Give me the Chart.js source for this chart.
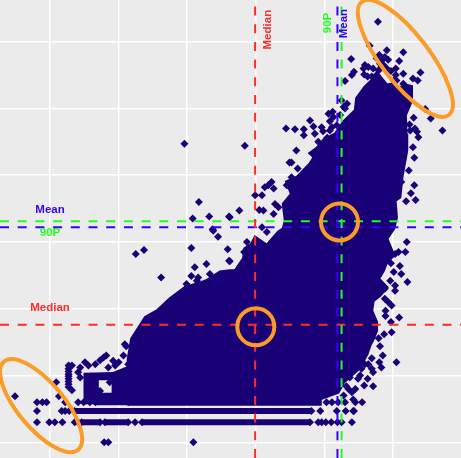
<!DOCTYPE html>
<html>
<head>
<meta charset="utf-8">
<style>html,body{margin:0;padding:0;background:#ebebeb}#w{width:461px;height:458px;position:relative}</style>
<script src="https://cdn.jsdelivr.net/npm/chart.js@4"></script>
</head>
<body>
<div id="w"><canvas id="c"></canvas></div>
<script>
// Values, in grid units (the reference has no axis labels).
const denseCloud = [[1.14,.57],[1.14,1.25],[1.19,1.55],[1.39,1.87],[1.56,1.97],[1.75,2.15],[1.97,2.32],[2.14,2.37],[2.28,2.42],[2.48,2.55],[2.62,2.57],[2.70,2.57],[2.82,2.75],[2.84,2.90],[2.94,2.97],[2.99,3.07],[3.16,2.95],[3.33,3.15],[3.40,3.20],[3.43,3.32],[3.40,3.57],[3.52,3.72],[3.45,3.90],[3.60,3.97],[3.79,4.17],[3.85,4.27],[3.79,4.33],[3.91,4.42],[4.03,4.55],[4.16,4.62],[4.28,4.80],[4.45,4.97],[4.47,5.15],[4.59,5.32],[4.69,5.42],[4.79,5.50],[4.91,5.35],[5.01,5.37],[5.10,5.31],[5.18,5.35],[5.27,5.33],[5.27,5.12],[5.18,4.90],[5.19,4.62],[5.20,4.37],[5.13,3.97],[5.10,3.67],[5.03,3.62],[5.05,3.37],[5.01,3.20],[4.91,3.05],[5.01,2.80],[4.91,2.70],[4.86,2.57],[4.79,2.45],[4.91,2.32],[4.81,2.20],[4.71,2.12],[4.69,1.97],[4.76,1.80],[4.76,1.67],[4.70,1.52],[4.67,1.47],[4.62,1.32],[4.50,1.10],[4.28,.90],[4.20,.75],[3.94,.65],[3.94,.57],[1.14,.57]];
const lowerBlockA = [[.51,.57],[.51,1.02],[.92,1.03],[.92,.95],[.69,.95],[.69,.72],[.95,.72],[.95,.57]];
const lowerBlockB = [[.92,.57],[.92,1.03],[1.14,1.12],[1.14,.57]];
const bandUpper = [[.36,.47],[3.81,.47]];
const bandLower1 = [[.46,.30],[.73,.30]];
const bandLower2 = [[.80,.30],[1.14,.30]];
const bandLower3 = [[1.34,.30],[3.79,.30]];
const bandTop = [[.66,.60],[1.14,.60]];
const topOutliers = [[4.78,6.30],[4.66,5.94],[4.91,5.87],[5.15,5.84],[4.39,5.74],[4.80,5.80],[4.76,5.75],[4.88,5.77],[4.84,5.72],[4.93,5.73],[5.09,5.71],[4.59,5.65],[4.64,5.62],[4.81,5.67],[4.83,5.62],[4.43,5.55],[4.40,5.50],[4.58,5.51],[4.63,5.48],[4.97,5.56],[5.04,5.60],[5.15,5.52],[5.40,5.54],[5.01,5.42],[5.04,5.50],[5.29,5.45],[5.36,5.42],[4.30,5.41],[4.69,5.48],[4.76,5.50],[4.74,5.45],[4.79,5.57],[4.86,5.65],[4.91,5.60],[4.71,5.60],[5.05,5.42],[5.15,5.37],[4.57,5.60]];
const rightOutliers = [[5.47,4.99],[5.55,4.85],[5.72,4.67],[5.30,4.86],[5.24,4.76],[5.32,4.70],[5.25,4.67],[5.35,4.65],[5.37,4.57],[5.29,4.42],[5.31,4.26],[5.23,4.07],[5.12,3.90],[5.31,3.85],[5.26,3.73],[5.19,3.61],[5.33,3.63],[5.20,3.00],[5.18,2.85],[5.08,2.85],[5.03,2.82],[4.97,2.68],[5.10,2.64],[5.01,2.55],[5.12,2.52],[4.96,2.42],[5.21,2.40],[5.03,2.35],[5.03,2.27],[4.88,2.30],[4.88,2.15],[4.93,2.10],[4.98,2.05],[4.89,1.97],[4.89,1.89],[5.09,1.87],[4.97,1.80],[4.98,1.65],[4.87,1.62],[4.79,1.56],[4.81,1.44],[4.85,1.30],[5.05,1.20],[4.80,1.20],[4.83,1.12],[4.69,1.26],[4.71,1.05],[4.63,.95],[4.71,.84],[4.58,.85],[4.49,.95],[4.45,.80],[4.35,.80],[4.42,.64],[4.54,1.10],[4.59,1.17],[4.64,1.17],[4.69,1.10],[4.52,1.00],[4.37,.97],[4.32,.84],[4.40,.75],[4.28,.70]];
const upperLeftOutliers = [[3.44,4.70],[3.57,4.69],[3.70,4.69],[3.79,4.82],[3.84,4.73],[3.70,4.60],[3.86,4.62],[3.96,4.72],[3.98,4.66],[4.06,4.92],[4.12,4.95],[4.13,4.87],[4.08,4.81],[4.11,4.72],[4.08,4.67],[4.25,5.12],[4.33,5.07],[4.30,5.00],[4.04,4.56],[3.91,4.50],[3.93,4.42],[3.59,4.37],[2.84,4.44],[3.52,4.19],[3.49,4.19],[3.61,4.10],[3.23,3.90],[3.18,3.85],[3.13,3.82],[3.26,3.80],[2.99,3.70],[3.09,3.70],[3.28,3.57],[3.33,3.52],[3.26,3.42],[3.05,3.48],[3.11,3.47],[2.76,3.47],[2.62,3.37],[3.09,3.22],[3.45,3.85],[3.47,3.85],[3.52,3.97],[1.96,4.47],[2.17,3.60],[2.08,3.35],[2.32,3.38],[2.61,3.38],[2.37,3.19],[2.38,3.17],[2.45,3.08],[2.59,2.89],[2.06,2.91],[1.37,2.88],[1.25,2.82],[2.11,2.62],[2.28,2.67],[2.61,2.72],[2.06,2.49],[2.33,2.52],[1.62,2.47],[1.99,2.37],[2.16,2.47],[2.14,2.42],[3.16,3.15],[2.87,3.00],[2.83,2.85],[2.62,2.71],[4.18,4.75],[4.23,4.90],[4.28,5.02],[4.01,4.52]];
const lowerLeftOutliers = [[1.09,1.47],[1.11,1.44],[.27,1.15],[.27,1.10],[.27,1.06],[.27,1.02],[.27,.99],[.27,.95],[.27,.91],[.27,.87],[.27,.83],[.32,1.15],[.44,1.12],[.41,1.05],[.44,.97],[.51,1.20],[.56,1.15],[.66,1.17],[.73,1.23],[.78,1.27],[.82,1.30],[.92,1.22],[.85,1.12],[1.00,1.20],[1.07,1.30],[.95,1.15],[1.14,1.17],[-.51,.69],[.13,.69],[.09,.90],[.32,.78],[.87,.90],[.73,.77]];
const rowTop = [[-.19,.60],[-.11,.60],[-.05,.60],[.22,.60],[.41,.60],[.49,.60],[.58,.60],[.66,.60],[1.14,.60],[4.03,.60],[4.11,.60],[4.20,.60],[4.30,.60],[4.45,.60],[4.55,.60]];
const rowUpper = [[-.19,.47],[.17,.47],[.22,.47],[.28,.47],[.36,.47],[3.81,.47],[3.94,.47],[4.18,.47],[4.31,.47],[4.42,.47],[4.43,.47]];
const rowLower = [[-.19,.30],[-.01,.30],[.07,.30],[.18,.30],[.36,.30],[.41,.30],[.46,.30],[.73,.30],[.80,.30],[1.14,.30],[1.24,.30],[1.34,.30],[3.79,.30],[3.91,.30],[3.96,.30],[4.02,.30],[4.10,.30],[4.19,.30],[4.25,.30],[4.40,.30]];
const rowBottom = [[.79,0],[.85,0],[2.09,0]];

const medianX = 2.99, meanX = 4.19, p90X = 4.25;
const medianY = 1.76, meanY = 3.22, p90Y = 3.31;
const highlightCircles = [[4.22,3.30],[3.00,1.73]];
const gridStep = 1;
const xRange = [-.729,5.991], yRange = [-.235,6.624];
const horizontalLabels = [["Mean",0,3.48,"#3a00ff"],["90P",0,3.14,"#1eff1e"],["Median",0,2.01,"#ff2a2a"]];
const verticalLabels = [["Median",3.18,6.18,"#ff2a2a"],["90P",4.05,6.28,"#1eff1e"],["Mean",4.29,6.27,"#3a00ff"]];
const highlightEllipses = [[5.18,5.75,71.4,24,52.5],[-.13,.55,57.6,23,50]];

const toPts = a => a.map(p => ({x:p[0], y:p[1]}));
const navy = "#1a0077", orange = "#fb9c28";
const pointSets = [topOutliers,rightOutliers,upperLeftOutliers,lowerLeftOutliers,rowTop,rowUpper,rowLower,rowBottom];
const bandSets = [bandUpper,bandLower1,bandLower2,bandLower3,bandTop];
const shapeSets = [denseCloud,lowerBlockA,lowerBlockB];

const datasets = [];
shapeSets.forEach((s,i)=>datasets.push({label:"cloud"+i,data:toPts(s),showLine:true,fill:"shape",backgroundColor:navy,borderColor:navy,borderWidth:3,pointRadius:0,tension:0,order:10}));
bandSets.forEach((b,i)=>datasets.push({label:"band"+i,data:toPts(b),showLine:true,fill:false,borderColor:navy,borderWidth:6,pointRadius:0,tension:0,order:9}));
pointSets.forEach((s,i)=>datasets.push({label:"points"+i,data:toPts(s),showLine:false,pointStyle:"rectRot",pointRadius:4,pointBackgroundColor:navy,pointBorderWidth:0,order:8}));
const vline=(x,c)=>({label:"v",data:[{x,y:yRange[0]},{x,y:yRange[1]}],showLine:true,fill:false,borderColor:c,borderWidth:2,borderDash:[9,8.7],pointRadius:0,order:5});
const hline=(y,c)=>({label:"h",data:[{x:xRange[0],y},{x:xRange[1],y}],showLine:true,fill:false,borderColor:c,borderWidth:2,borderDash:[9,8.7],pointRadius:0,order:5});
datasets.push(vline(medianX,"#ff2a2a"),vline(meanX,"#3a00ff"),vline(p90X,"#1eff1e"),hline(medianY,"#ff2a2a"),hline(meanY,"#3a00ff"),hline(p90Y,"#1eff1e"));
datasets.push({label:"circles",data:toPts(highlightCircles),showLine:false,pointStyle:"circle",pointRadius:18.5,pointBackgroundColor:"rgba(0,0,0,0)",pointBorderColor:orange,pointBorderWidth:4,order:1});

const decor = {
  id:"decor",
  beforeDraw(ch){
    const {ctx,chartArea:a}=ch;
    ctx.save();ctx.fillStyle="#ebebeb";ctx.fillRect(a.left,a.top,a.right-a.left,a.bottom-a.top);ctx.restore();
  },
  afterDatasetsDraw(ch){
    const {ctx,scales:{x,y}}=ch;
    ctx.save();
    ctx.font='bold 11.5px "Liberation Sans"';ctx.textAlign="center";ctx.textBaseline="middle";
    horizontalLabels.forEach(l=>{ctx.fillStyle=l[3];ctx.fillText(l[0],x.getPixelForValue(l[1]),y.getPixelForValue(l[2]));});
    verticalLabels.forEach(l=>{ctx.save();ctx.translate(x.getPixelForValue(l[1]),y.getPixelForValue(l[2]));ctx.rotate(-Math.PI/2);ctx.fillStyle=l[3];ctx.fillText(l[0],0,0);ctx.restore();});
    ctx.strokeStyle=orange;ctx.lineWidth=4;
    highlightEllipses.forEach(e=>{ctx.beginPath();ctx.ellipse(x.getPixelForValue(e[0]),y.getPixelForValue(e[1]),e[2],e[3],e[4]*Math.PI/180,0,2*Math.PI);ctx.stroke();});
    ctx.restore();
  }
};

const axis = (r)=>({type:"linear",min:r[0],max:r[1],display:true,border:{display:false},
  grid:{color:"#ffffff",lineWidth:1.5,drawTicks:false},
  ticks:{display:false,stepSize:gridStep,includeBounds:false}});

new Chart(document.getElementById("c"),{
  type:"scatter",
  data:{datasets},
  options:{responsive:true,maintainAspectRatio:false,animation:false,
    layout:{padding:0,autoPadding:false},
    plugins:{legend:{display:false},tooltip:{enabled:false},title:{display:false}},
    scales:{x:axis(xRange),y:axis(yRange)}},
  plugins:[decor]
});
</script>
</body>
</html>
